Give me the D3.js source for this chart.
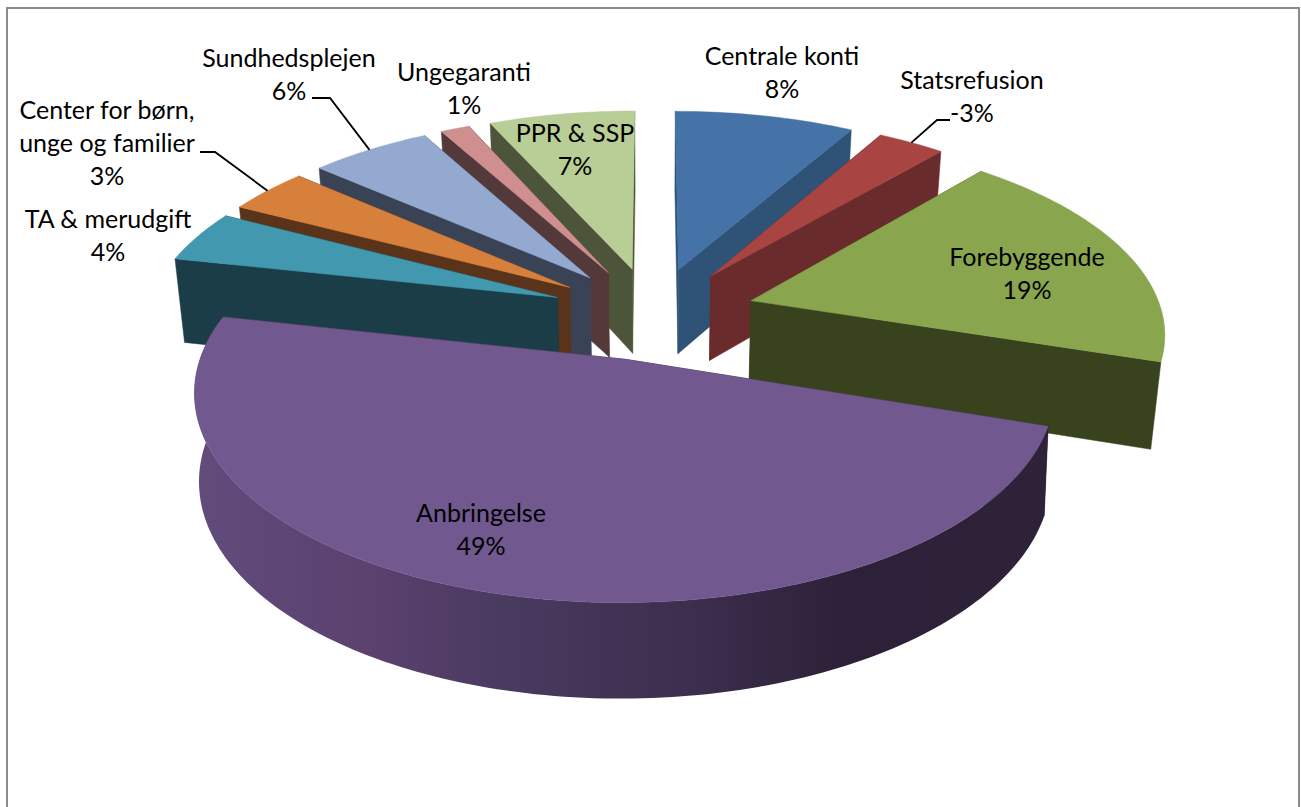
<!DOCTYPE html>
<html>
<head>
<meta charset="utf-8">
<script src="https://cdn.jsdelivr.net/npm/d3@7"></script>
<style>
    html, body { margin: 0; padding: 0; background: #fff; overflow: hidden; }
    text { font-family: Lato, "Open Sans", sans-serif; font-size: 25px; fill: #000; }
</style>
</head>
<body>
<div id="root"></div>
<script>
// data, clockwise from 12 o'clock
var categories = ['Centrale konti', 'Statsrefusion', 'Forebyggende', 'Anbringelse', 'TA & merudgift', 'Center for børn, unge og familier', 'Sundhedsplejen', 'Ungegaranti', 'PPR & SSP']
// the percentages printed on the chart
var percents = [8, -3, 19, 49, 4, 3, 6, 1, 7]
// slice shares
var shares = [8.25, 3.08, 18.67, 48.39, 4.25, 3.75, 5.56, 1.33, 6.72]

var topColors = ['#4572a7', '#a84543', '#89a54e', '#71588f', '#4198af', '#d7803b', '#93a9cf', '#ce8f8e', '#b9cd96']
var sideColors = ['#2f5277', '#6a2b2c', '#38431e', '#2d2238', '#1b3d48', '#59341a', '#3a4356', '#54393b', '#4c5539']

// label layout: centre x, first line centre y
var labelLines = {
    'Centrale konti': { x: 782, y: 57, lines: ['Centrale konti'] },
    'Statsrefusion': { x: 972, y: 81, lines: ['Statsrefusion'] },
    'Forebyggende': { x: 1027, y: 258, lines: ['Forebyggende'] },
    'Anbringelse': { x: 481, y: 514, lines: ['Anbringelse'] },
    'TA & merudgift': { x: 108, y: 220, lines: ['TA & merudgift'] },
    'Center for børn, unge og familier': { x: 107, y: 111, lines: ['Center for børn,', 'unge og familier'] },
    'Sundhedsplejen': { x: 289, y: 59, lines: ['Sundhedsplejen'] },
    'Ungegaranti': { x: 464, y: 73, lines: ['Ungegaranti'] },
    'PPR & SSP': { x: 575, y: 134, lines: ['PPR & SSP'] }
}
// leader elbows, the last point is taken from the slice itself
var leaders = {
    'Statsrefusion': [[950, 120], [937, 120]],
    'Center for børn, unge og familier': [[200, 152], [215, 152]],
    'Sundhedsplejen': [[312, 98], [330, 98]]
}

window.onload = function () {
    var width = 1301, height = 807
    var svg = d3.select('#root').append('svg')
        .attr('width', width)
        .attr('height', height)
        .style('display', 'block')

    // frame
    svg.append('rect')
        .attr('x', 7).attr('y', 8)
        .attr('width', 1292).attr('height', 830)
        .attr('fill', '#fff')
        .attr('stroke', '#8c8c8c')
        .attr('stroke-width', 2)

    // projection of the tilted pie
    var cx = 653, cy = 313
    var A = 411, B = 193, K = 0.1454   // x scale, y scale, perspective
    var explodeX = 0.25, explodeY = 0.24

    // bottomScale: x shrink of the lower face, leave out for the upper face
    function project(angle, r, mid, bottomScale) {
        var X = r * Math.sin(angle) + explodeX * Math.sin(mid)
        var Y = r * Math.cos(angle) + explodeY * Math.cos(mid)
        var w = 1 / (1 + K * Y)
        var sx = A * X * w
        var sy = -B * Y * w
        if (bottomScale) {
            sx = sx * bottomScale
            sy = sy * 1.036 + 85.6
        }
        return [cx + sx, cy + sy]
    }

    var pie = d3.pie().sort(null)
    var slices = pie(shares).map(function (d, i) {
        d.name = categories[i]
        d.percent = percents[i]
        d.mid = (d.startAngle + d.endAngle) / 2
        d.top = topColors[i]
        d.side = sideColors[i]
        return d
    })

    function arcPoints(d, bottomScale) {
        var n = Math.max(4, Math.ceil((d.endAngle - d.startAngle) / 0.02))
        return d3.range(n + 1).map(function (j) {
            return project(d.startAngle + (d.endAngle - d.startAngle) * j / n, 1, d.mid, bottomScale)
        })
    }

    var line = d3.line().curve(d3.curveLinear)

    // shading of the big rim
    var rimGrad = svg.append('defs').append('linearGradient')
        .attr('id', 'rimGrad')
        .attr('gradientUnits', 'userSpaceOnUse')
        .attr('x1', 195).attr('x2', 1050).attr('y1', 0).attr('y2', 0)
    var rimStops = [[0, '#614c7c'], [0.22, '#5a406d'], [0.36, '#493a60'], [0.58, '#3d2e4e'], [0.76, '#2c2138'], [1, '#2d2238']]
    rimStops.forEach(function (s) {
        rimGrad.append('stop').attr('offset', s[0]).attr('stop-color', s[1])
    })

    // far slices first
    var ordered = slices.slice().sort(function (a, b) {
        return d3.descending(Math.cos(a.mid), Math.cos(b.mid))
    })

    var pies = svg.selectAll('g.slice')
        .data(ordered)
        .enter()
        .append('g')
        .attr('class', 'slice')

    pies.each(function (d) {
        var g = d3.select(this)
        var isFront = Math.cos(d.mid) < -0.5
        var bottomScale = isFront ? 0.99 : 0.98
        var tip = project(0, 0, d.mid)
        var tipB = project(0, 0, d.mid, bottomScale)
        var topArc = arcPoints(d)
        var botArc = arcPoints(d, bottomScale)

        function drawFace(a, b) {
            g.append('path')
                .attr('d', line([tip, a, b, tipB]) + 'Z')
                .attr('fill', d.side)
                .attr('stroke', d.side)
                .attr('stroke-width', 0.5)
        }
        var faceStart = function () { drawFace(topArc[0], botArc[0]) }
        var faceEnd = function () { drawFace(topArc[topArc.length - 1], botArc[botArc.length - 1]) }

        // left hand slices show the start cut, right hand ones the end cut
        if (isFront) {
            faceStart(); faceEnd()
            // only the front slice shows its rim
            g.append('path')
                .attr('d', line(topArc.concat(botArc.slice().reverse())) + 'Z')
                .attr('fill', 'url(#rimGrad)')
        } else if (Math.sin(d.mid) > 0) {
            faceStart(); faceEnd()
        } else {
            faceEnd(); faceStart()
        }

        g.append('path')
            .attr('d', line([tip].concat(topArc)) + 'Z')
            .attr('fill', d.top)
            .attr('stroke', d.top)
            .attr('stroke-width', 0.5)
    })

    // leader lines
    slices.forEach(function (d) {
        if (!leaders[d.name]) return
        var pts = leaders[d.name].concat([project(d.mid, 1, d.mid)])
        svg.append('path')
            .attr('d', line(pts))
            .attr('fill', 'none')
            .attr('stroke', '#000')
            .attr('stroke-width', 1.8)
    })

    // labels
    var lineGap = 33
    slices.forEach(function (d) {
        var lab = labelLines[d.name]
        var rows = lab.lines.concat([d.percent + '%'])
        var t = svg.append('text').attr('text-anchor', 'middle')
        rows.forEach(function (row, j) {
            t.append('tspan')
                .attr('x', lab.x)
                .attr('y', lab.y + j * lineGap + 8)
                .text(row)
        })
    })
}
</script>
</body>
</html>
